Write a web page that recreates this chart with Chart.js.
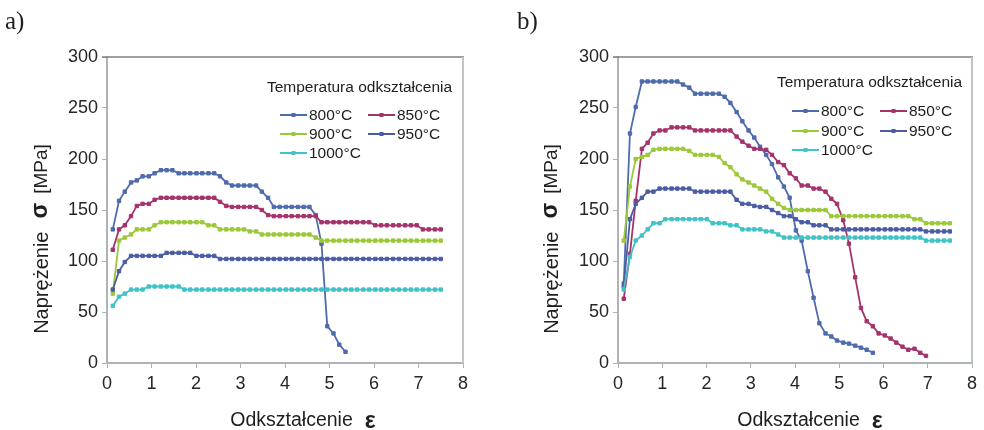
<!DOCTYPE html>
<html>
<head>
<meta charset="utf-8">
<script src="https://cdn.jsdelivr.net/npm/chart.js@4.4.1/dist/chart.umd.min.js"></script>
<style>
  html, body { margin: 0; padding: 0; background: #fff; }
  #wrap { position: relative; width: 984px; height: 430px; }
  canvas { position: absolute; top: 0; }
  #chartA { left: 0; }
  #chartB { left: 492px; }
</style>
</head>
<body>
<div id="wrap">
  <canvas id="chartA" width="492" height="430"></canvas>
  <canvas id="chartB" width="492" height="430"></canvas>
</div>
<script>
// strain steps shared by every curve
const strain = [0.13, 0.27, 0.40, 0.54, 0.67, 0.80, 0.94, 1.07, 1.21, 1.34, 1.47, 1.61, 1.74, 1.87,
  2.01, 2.14, 2.28, 2.41, 2.54, 2.68, 2.81, 2.95, 3.08, 3.21, 3.35, 3.48, 3.62, 3.75, 3.88, 4.02,
  4.15, 4.29, 4.42, 4.55, 4.69, 4.82, 4.95, 5.09, 5.22, 5.36, 5.49, 5.62, 5.76, 5.89, 6.03, 6.16,
  6.29, 6.43, 6.56, 6.70, 6.83, 6.96, 7.10, 7.23, 7.37, 7.50];

const temps = ['800°C', '850°C', '900°C', '950°C', '1000°C'];
const colors = ['#4f6bae', '#a5336b', '#9cc83b', '#4b5ca4', '#42c3c5'];

// panel a) stress [MPa]
const a800 = [131, 159, 168, 177, 179, 183, 183, 186, 189, 189, 189, 186, 186, 186, 186, 186, 186, 186,
  183, 177, 174, 174, 174, 174, 174, 168, 162, 153, 153, 153, 153, 153, 153, 153, 145, 117, 36, 29, 18, 11];
const a850 = [111, 131, 135, 144, 154, 156, 156, 160, 162, 162, 162, 162, 162, 162, 162, 162, 162, 162,
  158, 154, 153, 153, 153, 153, 153, 150, 145, 144, 144, 144, 144, 144, 144, 144, 144,
  138, 138, 138, 138, 138, 138, 138, 138, 138, 135, 135, 135, 135, 135, 135, 135, 135, 131, 131, 131, 131];
const a900 = [68, 120, 123, 126, 131, 131, 131, 135, 138, 138, 138, 138, 138, 138, 138, 138, 135, 135,
  131, 131, 131, 131, 131, 129, 129, 126, 126, 126, 126, 126, 126, 126, 126, 126, 123,
  120, 120, 120, 120, 120, 120, 120, 120, 120, 120, 120, 120, 120, 120, 120, 120, 120, 120, 120, 120, 120];
const a950 = [72, 90, 99, 105, 105, 105, 105, 105, 105, 108, 108, 108, 108, 108, 105, 105, 105, 105,
  102, 102, 102, 102, 102, 102, 102, 102, 102, 102, 102, 102, 102, 102, 102, 102, 102, 102, 102, 102,
  102, 102, 102, 102, 102, 102, 102, 102, 102, 102, 102, 102, 102, 102, 102, 102, 102, 102];
const a1000 = [56, 65, 68, 72, 72, 72, 75, 75, 75, 75, 75, 75,
  72, 72, 72, 72, 72, 72, 72, 72, 72, 72, 72, 72, 72, 72, 72, 72, 72, 72, 72, 72, 72, 72, 72, 72,
  72, 72, 72, 72, 72, 72, 72, 72, 72, 72, 72, 72, 72, 72, 72, 72, 72, 72, 72, 72];

// panel b) stress [MPa]
const b800 = [78, 225, 251, 276, 276, 276, 276, 276, 276, 276, 273, 270, 264, 264, 264, 264, 264, 261,
  255, 246, 237, 228, 221, 212, 204, 195, 182, 173, 162, 130, 120, 90, 64, 39, 29, 26, 22, 20, 19, 17, 15, 13, 10];
const b850 = [63, 107, 159, 210, 216, 225, 228, 228, 231, 231, 231, 231, 228, 228, 228, 228, 228, 228, 228,
  222, 217, 213, 210, 210, 209, 204, 197, 194, 186, 181, 174, 174, 171, 171, 168,
  161, 156, 140, 117, 84, 54, 41, 36, 29, 27, 24, 20, 16, 13, 14, 10, 7];
const b900 = [120, 173, 200, 202, 204, 209, 210, 210, 210, 210, 210, 208, 204, 204, 204, 204, 202, 196,
  192, 185, 180, 177, 174, 171, 168, 161, 156, 152, 150, 150, 150, 150, 150, 150, 150,
  144, 144, 144, 144, 144, 144, 144, 144, 144, 144, 144, 144, 144, 144, 141, 141, 137, 137, 137, 137, 137];
const b950 = [75, 141, 156, 162, 168, 168, 171, 171, 171, 171, 171, 171, 168, 168, 168, 168, 168, 168, 168,
  160, 156, 156, 154, 153, 153, 150, 147, 144, 144, 141, 138, 138, 135, 135, 135,
  131, 131, 131, 131, 131, 131, 131, 131, 131, 131, 131, 131, 131, 131, 131, 131, 129, 129, 129, 129, 129];
const b1000 = [72, 104, 120, 125, 131, 137, 137, 141, 141, 141, 141, 141, 141, 141, 141, 137, 137, 137,
  135, 135, 131, 131, 131, 131, 129, 129, 126, 123, 123, 123, 123, 123, 123, 123, 123, 123, 123, 123,
  123, 123, 123, 123, 123, 123, 123, 123, 123, 123, 123, 123, 123, 120, 120, 120, 120, 120];

const SANS = '"Liberation Sans", Arial, sans-serif';
const INK = '#1e1e1e';

// draws a title made of plain text + bold greek symbol (+ optional unit), centred on (cx, cy)
function mixedTitle(ctx, parts, cx, cy, vertical) {
  ctx.save();
  ctx.translate(cx, cy);
  if (vertical) ctx.rotate(-Math.PI / 2);
  ctx.textBaseline = 'middle';
  ctx.fillStyle = INK;
  let total = 0;
  parts.forEach(p => { ctx.font = p.font; p.w = ctx.measureText(p.text).width; total += p.w + (p.gap || 0); });
  let x = -total / 2;
  parts.forEach(p => {
    ctx.font = p.font;
    ctx.fillText(p.text, x, p.dy || 0);
    x += p.w + (p.gap || 0);
  });
  ctx.restore();
}

const decor = {
  id: 'decor',
  afterDraw(chart, args, o) {
    const ctx = chart.ctx, area = chart.chartArea;
    ctx.save();
    // plot frame: dark top edge, light right edge
    ctx.strokeStyle = '#7b8083';
    ctx.lineWidth = 1.5;
    ctx.beginPath(); ctx.moveTo(area.left - 5, area.top); ctx.lineTo(area.right + 1, area.top); ctx.stroke();
    ctx.strokeStyle = '#c0c4c7';
    ctx.lineWidth = 2;
    ctx.beginPath(); ctx.moveTo(area.right, area.top); ctx.lineTo(area.right, area.bottom); ctx.stroke();

    // panel letter
    ctx.fillStyle = INK;
    ctx.font = '25px "Liberation Serif", "DejaVu Serif", serif';
    ctx.textBaseline = 'alphabetic';
    ctx.textAlign = 'left';
    ctx.fillText(o.panel, o.panelX, 29);

    // axis titles
    mixedTitle(ctx, [
      { text: 'Odkształcenie', font: '19.5px ' + SANS, gap: 12 },
      { text: 'ε', font: 'bold 23px ' + SANS, dy: 1 }
    ], o.xTitleX, 421, false);
    mixedTitle(ctx, [
      { text: 'Naprężenie', font: '20px ' + SANS, gap: 13 },
      { text: 'σ', font: 'bold 23px ' + SANS, gap: 9, dy: -1 },
      { text: '[MPa]', font: '19px ' + SANS }
    ], o.yTitleX, 239, true);

    // legend
    ctx.font = '15.5px ' + SANS;
    ctx.textAlign = 'center';
    ctx.textBaseline = 'middle';
    ctx.fillText('Temperatura odkształcenia', o.legTitleX, o.legTitleY);
    ctx.textAlign = 'left';
    chart.data.datasets.forEach((ds, k) => {
      const col = k % 2, row = Math.floor(k / 2);
      const x0 = o.legCols[col], y = o.legRows[row];
      ctx.strokeStyle = ds.borderColor;
      ctx.fillStyle = ds.borderColor;
      ctx.lineWidth = 2;
      ctx.beginPath(); ctx.moveTo(x0, y); ctx.lineTo(x0 + 27, y); ctx.stroke();
      ctx.fillRect(x0 + 11.5, y - 2, 4, 4);
      ctx.fillStyle = INK;
      ctx.fillText(ds.label, x0 + 29, y + 0.5);
    });
    ctx.restore();
  }
};

function makeChart(id, series, o) {
  const gridCol = '#aeb3b6';
  return new Chart(document.getElementById(id), {
    type: 'line',
    data: {
      datasets: series.map((vals, k) => ({
        label: temps[k],
        data: vals.map((v, i) => ({ x: strain[i], y: v })),
        borderColor: colors[k],
        backgroundColor: colors[k],
        borderWidth: 1.8,
        pointStyle: 'rect',
        pointRadius: 2.4,
        pointBorderWidth: 1,
        tension: 0,
        order: series.length - k
      }))
    },
    options: {
      responsive: false,
      animation: false,
      devicePixelRatio: 1,
      layout: { padding: { top: 57, right: o.padRight, left: 0, bottom: 0 } },
      plugins: { legend: { display: false }, tooltip: { enabled: false }, decor: o },
      scales: {
        x: {
          type: 'linear', min: 0, max: 8,
          ticks: { stepSize: 1, color: '#262626', font: { family: SANS, size: 18 }, padding: 5 },
          grid: { drawOnChartArea: false, drawTicks: true, tickLength: 5, color: gridCol },
          border: { color: gridCol, width: 2 },
          afterFit: s => { s.height = 67; }
        },
        y: {
          min: 0, max: 300,
          ticks: { stepSize: 50, color: '#262626', font: { family: SANS, size: 18 }, padding: 4 },
          grid: { drawOnChartArea: false, drawTicks: true, tickLength: 5, color: gridCol },
          border: { color: gridCol, width: 2 },
          afterFit: s => { s.width = o.yWidth; }
        }
      }
    },
    plugins: [decor]
  });
}

makeChart('chartA', [a800, a850, a900, a950, a1000], {
  panel: 'a)', panelX: 5, yWidth: 107, padRight: 29,
  xTitleX: 303, yTitleX: 42,
  legTitleX: 359.5, legTitleY: 88, legCols: [280, 368], legRows: [115, 134, 153]
});
makeChart('chartB', [b800, b850, b900, b950, b1000], {
  panel: 'b)', panelX: 25, yWidth: 126, padRight: 12,
  xTitleX: 318, yTitleX: 60,
  legTitleX: 377.5, legTitleY: 83, legCols: [300, 388], legRows: [111, 131, 150]
});
</script>
</body>
</html>
